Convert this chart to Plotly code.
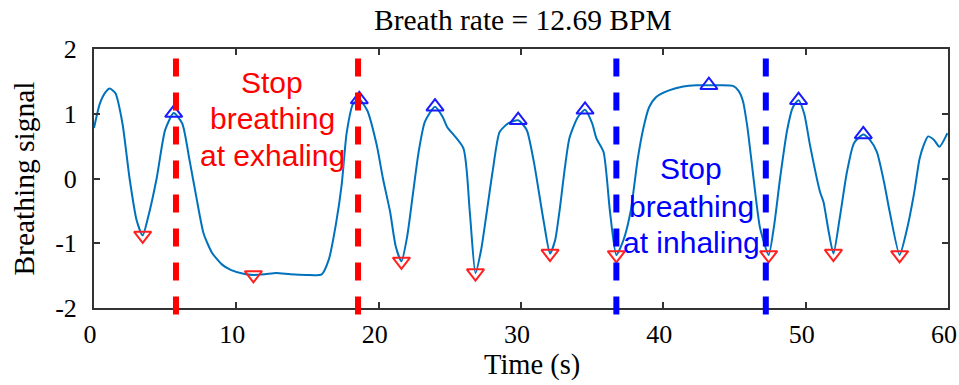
import plotly.graph_objects as go

# Breathing signal trace (time in s, signal value)
time_s = [0.0, 0.4, 0.8, 1.1, 1.5, 2.0, 2.5, 3.0, 3.42, 3.8, 4.4, 5.0, 5.6, 6.2, 6.7, 7.2, 7.7, 8.3,
          9.0, 9.6, 10.5, 11.2, 12.0, 12.8, 13.8, 14.9, 16.0, 16.5, 17.0, 17.4, 17.75, 18.2, 18.64,
          19.2, 19.86, 20.3, 20.8, 21.2, 21.6, 22.0, 22.4, 22.8, 23.25, 23.96, 24.5, 24.8, 25.95,
          26.4, 26.8, 27.2, 27.6, 28.0, 28.5, 29.1, 29.8, 30.4, 30.9, 31.6, 32.04, 32.4, 32.7,
          33.4, 34.0, 34.5, 35.0, 35.3, 35.8, 36.25, 36.7, 37.2, 37.7, 38.2, 38.6, 39.0, 39.5,
          40.4, 41.4, 42.3, 43.2, 44.0, 44.9, 45.3, 45.6, 45.9, 46.2, 46.5, 46.8, 47.4, 47.8,
          48.2, 48.7, 49.1, 49.5, 49.9, 50.3, 51.0, 51.25, 51.6, 51.95, 52.4, 52.9, 53.4, 54.05,
          54.5, 55.0, 55.5, 55.9, 56.6, 57.1, 57.6, 58.0, 58.3, 58.6, 59.0, 59.4, 59.96]
signal = [0.78, 1.15, 1.33, 1.39, 1.32, 0.85, 0.0, -0.65, -0.88, -0.6, 0.0, 0.75, 1.01, 0.85, 0.3,
          -0.3, -0.85, -1.15, -1.33, -1.41, -1.47, -1.49, -1.48, -1.46, -1.48, -1.49, -1.48, -1.25,
          -0.7, -0.1, 0.7, 1.15, 1.22, 1.05, 0.52, 0.0, -0.51, -1.05, -1.28, -0.9, -0.25, 0.4,
          0.88, 1.11, 0.95, 0.80, 0.47, -0.51, -1.46, -1.1, -0.51, 0.1, 0.72, 0.85, 0.90, 0.75,
          0.26, -0.67, -1.16, -0.95, -0.51, 0.62, 0.95, 1.06, 0.85, 0.62, 0.41, -0.51, -1.18,
          -0.95, -0.51, 0.3, 0.78, 1.1, 1.26, 1.36, 1.42, 1.44, 1.44, 1.44, 1.43, 1.35, 1.19,
          0.8, 0.26, -0.3, -0.77, -1.18, -0.7, 0.0, 0.75, 1.1, 1.21, 1.0, 0.52, -0.20, -0.36,
          -0.8, -1.16, -0.6, 0.1, 0.55, 0.68, 0.6, 0.41, -0.05, -0.51, -1.18, -0.8, -0.25, 0.3,
          0.52, 0.65, 0.6, 0.49, 0.70]

# Detected peaks (inhale) and troughs (exhale)
peak_t = [5.6, 18.64, 23.96, 29.8, 34.5, 43.2, 49.5, 54.05]
peak_v = [1.01, 1.22, 1.11, 0.90, 1.06, 1.44, 1.21, 0.68]
trough_t = [3.42, 11.2, 21.6, 26.8, 32.04, 36.7, 47.4, 51.95, 56.6]
trough_v = [-0.88, -1.49, -1.28, -1.46, -1.16, -1.18, -1.18, -1.16, -1.18]

# Stop-breathing boundaries
exhale_stop = [5.76, 18.55]
inhale_stop = [36.7, 47.2]

# Annotation texts (one entry per line)
exhale_lines = ["Stop", "breathing", "at exhaling"]
inhale_lines = ["Stop", "breathing", "at inhaling"]

x_ticks = [0, 10, 20, 30, 40, 50, 60]
y_ticks = [-2, -1, 0, 1, 2]
y_tick_text = ["-2", "-1", "0", "1", "2"]

SERIF = "Liberation Serif, Times New Roman, serif"
SANS = "Liberation Sans, Arial, sans-serif"

fig = go.Figure()
fig.add_trace(go.Scatter(x=time_s, y=signal, mode="lines",
                         line=dict(color="#0072BD", width=2, shape="spline", smoothing=0.6),
                         hoverinfo="skip", showlegend=False))
fig.add_trace(go.Scatter(x=peak_t, y=peak_v, mode="markers",
                         marker=dict(symbol="triangle-up-open", size=15, color="#1a1aff",
                                     line=dict(width=2, color="#1a1aff")),
                         showlegend=False))
fig.add_trace(go.Scatter(x=trough_t, y=trough_v, mode="markers",
                         marker=dict(symbol="triangle-down-open", size=15, color="#ff2020",
                                     line=dict(width=2, color="#ff2020")),
                         showlegend=False))

for t in exhale_stop:
    fig.add_shape(type="line", xref="x", yref="paper", x0=t, x1=t, y0=-0.025, y1=1,
                  line=dict(color="#ff0000", width=6, dash="18px,16px"))
for t in inhale_stop:
    fig.add_shape(type="line", xref="x", yref="paper", x0=t, x1=t, y0=-0.025, y1=1,
                  line=dict(color="#0000ff", width=6, dash="18px,16px"))

exhale_y = [1.49, 0.934, 0.363]
inhale_y = [0.162, -0.44, -0.996]
for txt, yy in zip(exhale_lines, exhale_y):
    fig.add_annotation(x=12.54, y=yy, xref="x", yref="y", showarrow=False, text=txt,
                       yanchor="middle", font=dict(family=SANS, size=30, color="#ff0000"))
for txt, yy in zip(inhale_lines, inhale_y):
    fig.add_annotation(x=41.95, y=yy, xref="x", yref="y", showarrow=False, text=txt,
                       yanchor="middle", font=dict(family=SANS, size=30, color="#0000ff"))

fig.add_annotation(x=0.502, y=1.112, xref="paper", yref="paper", showarrow=False,
                   text="Breath rate = 12.69 BPM", yanchor="middle",
                   font=dict(family=SERIF, size=29.5, color="black"))
fig.add_annotation(x=0.513, y=-0.22, xref="paper", yref="paper", showarrow=False,
                   text="Time (s)", yanchor="middle",
                   font=dict(family=SERIF, size=28.5, color="black"))
fig.add_annotation(x=-0.083, y=0.5, xref="paper", yref="paper", showarrow=False,
                   text="Breathing signal", textangle=-90, xanchor="center", yanchor="middle",
                   font=dict(family=SERIF, size=29.5, color="black"))

axis_common = dict(showgrid=False, zeroline=False, showline=True, linecolor="#333333",
                   linewidth=2, mirror="ticks", ticks="inside", ticklen=6, tickwidth=1.5,
                   tickcolor="#333333", automargin=False, ticklabeloverflow="allow",
                   tickfont=dict(family=SERIF, size=26, color="black"))
fig.update_xaxes(range=[0, 60], tickvals=x_ticks, ticklabelstandoff=2, ticklabelshift=-4,
                 **axis_common)
fig.update_yaxes(range=[-2, 2], tickvals=y_ticks, ticktext=y_tick_text, ticklabelstandoff=10,
                 **axis_common)

fig.update_layout(width=959, height=385, margin=dict(l=94, r=11, t=49, b=77, autoexpand=False),
                  paper_bgcolor="white", plot_bgcolor="white", showlegend=False)

fig.write_html("out.html", config={"displayModeBar": False},
               post_script="document.body.style.margin='0';")
